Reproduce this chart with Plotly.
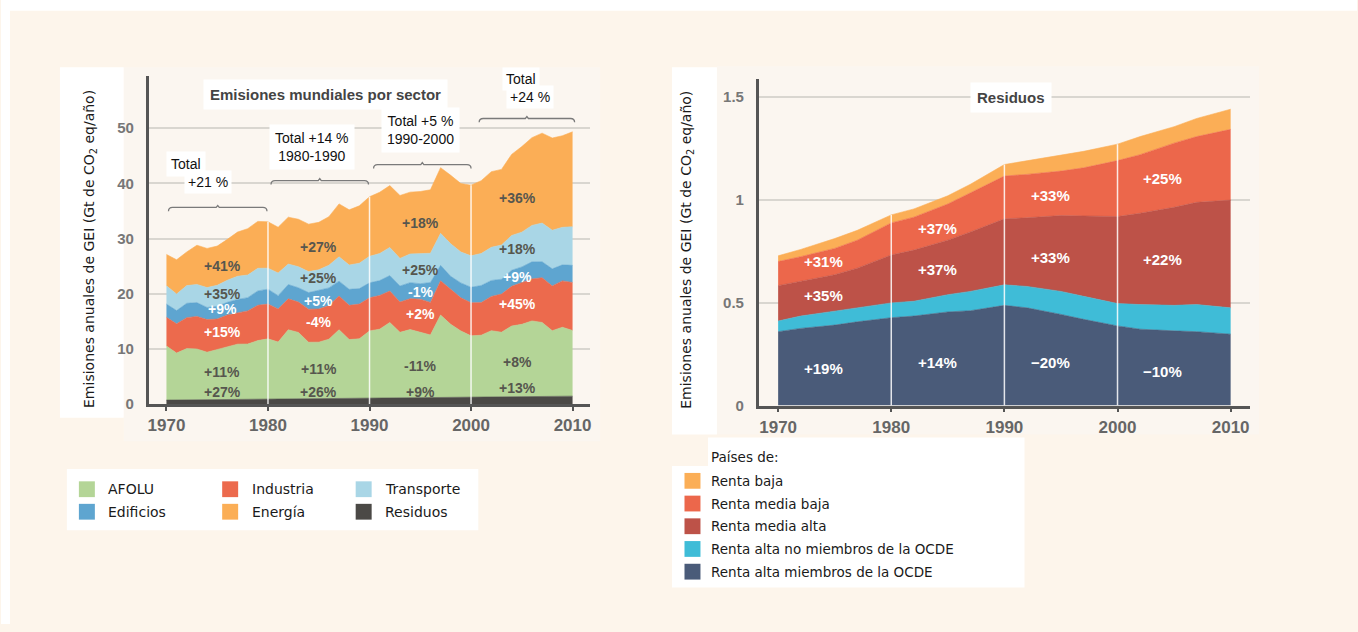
import plotly.graph_objects as go

W, H = 1358, 632


def X(px):
    return px / W


def Y(py):
    return 1 - py / H


# ---------------- Left chart data (Gt CO2eq/yr) ----------------
years = list(range(1970, 2011))
residuos = [0.73, 0.75, 0.77, 0.79, 0.81, 0.83, 0.85, 0.87, 0.89, 0.91,
            0.93, 0.95, 0.97, 0.99, 1.01, 1.03, 1.06, 1.08, 1.10, 1.13,
            1.17, 1.18, 1.19, 1.20, 1.21, 1.22, 1.23, 1.24, 1.25, 1.26,
            1.27, 1.29, 1.31, 1.33, 1.35, 1.36, 1.38, 1.40, 1.41, 1.43, 1.44]
afolu = [9.8, 8.5, 9.3, 9.2, 8.6, 9.1, 9.5, 10.0, 10.0, 10.6,
         10.9, 10.3, 12.5, 12.0, 10.2, 10.2, 10.7, 12.4, 10.6, 10.7,
         12.1, 12.4, 13.6, 11.8, 12.3, 11.8, 11.3, 14.9, 13.2, 12.0,
         11.1, 11.2, 12.0, 11.7, 12.8, 13.1, 13.7, 13.4, 11.9, 12.5, 11.9]
industria = [5.2, 5.3, 5.6, 5.9, 5.9, 5.5, 5.8, 5.6, 6.0, 6.4,
             6.3, 6.0, 5.6, 5.5, 6.0, 6.0, 6.1, 6.1, 6.2, 6.3,
             6.0, 6.1, 5.7, 5.5, 5.6, 6.0, 5.9, 6.2, 6.3, 6.0,
             6.0, 5.9, 6.2, 6.9, 7.2, 7.6, 7.6, 8.1, 8.1, 8.4, 8.7]
edificios = [2.4, 2.4, 2.6, 2.5, 2.2, 2.3, 2.3, 2.5, 2.4, 2.6,
             2.7, 2.4, 2.6, 2.6, 3.0, 3.4, 3.2, 2.7, 2.9, 2.8,
             2.7, 2.7, 2.8, 2.9, 2.9, 2.8, 3.6, 2.8, 2.4, 2.7,
             2.8, 3.1, 2.9, 2.7, 2.9, 2.8, 3.1, 2.9, 3.1, 2.9, 3.1]
transporte = [3.3, 3.0, 3.2, 3.3, 3.6, 3.8, 4.0, 4.2, 4.1, 4.1,
              3.8, 4.1, 3.7, 3.8, 3.8, 3.7, 4.1, 4.4, 4.4, 4.6,
              4.8, 4.9, 5.1, 5.0, 5.2, 5.4, 5.3, 5.8, 5.9, 5.6,
              5.7, 5.8, 6.0, 6.2, 6.3, 6.3, 6.6, 7.0, 7.0, 6.8, 7.0]
energia = [5.7, 6.2, 6.1, 7.1, 7.1, 7.1, 7.4, 8.0, 8.4, 8.5,
           8.4, 8.3, 8.5, 8.6, 8.6, 8.6, 8.8, 9.6, 10.0, 10.4,
           10.8, 11.1, 11.2, 11.4, 11.2, 11.3, 11.5, 11.9, 12.4, 12.4,
           12.8, 13.2, 13.7, 13.7, 14.7, 15.5, 15.9, 16.3, 16.7, 16.6, 17.2]

sector_names = ["Residuos", "AFOLU", "Industria", "Edificios", "Transporte", "Energía"]
sector_values = [residuos, afolu, industria, edificios, transporte, energia]
sector_colors = ["#4b4946", "#b4d597", "#ec6a4d", "#5ea5d0", "#a9d6e6", "#fbae56"]
left_legend_order = ["AFOLU", "Industria", "Transporte", "Edificios", "Energía", "Residuos"]

# ---------------- Right chart data (Residuos by income group) ----------------
r_years = [1970, 1972, 1975, 1977, 1980, 1982, 1985, 1987, 1990, 1992,
           1995, 1997, 2000, 2002, 2005, 2007, 2010]
ocde = [0.359, 0.375, 0.391, 0.407, 0.427, 0.435, 0.455, 0.461, 0.487, 0.475,
        0.443, 0.419, 0.387, 0.371, 0.363, 0.359, 0.347]
no_ocde = [0.052, 0.060, 0.068, 0.068, 0.072, 0.072, 0.084, 0.094, 0.100, 0.104,
           0.112, 0.112, 0.109, 0.120, 0.124, 0.132, 0.128]
media_alta = [0.172, 0.169, 0.177, 0.193, 0.233, 0.249, 0.265, 0.289, 0.321, 0.334,
              0.369, 0.391, 0.423, 0.444, 0.477, 0.497, 0.524]
media_baja = [0.117, 0.120, 0.128, 0.136, 0.156, 0.160, 0.176, 0.192, 0.208, 0.211,
              0.216, 0.234, 0.272, 0.285, 0.312, 0.320, 0.344]
baja = [0.028, 0.035, 0.048, 0.048, 0.039, 0.040, 0.040, 0.040, 0.056, 0.067,
        0.080, 0.080, 0.080, 0.088, 0.080, 0.088, 0.098]

income_names = ["Renta alta miembros de la OCDE", "Renta alta no miembros de la OCDE",
                "Renta media alta", "Renta media baja", "Renta baja"]
income_values = [ocde, no_ocde, media_alta, media_baja, baja]
income_colors = ["#4a5b79", "#3fbcd7", "#bd5248", "#ec674b", "#fbae56"]

x_ticks = [1970, 1980, 1990, 2000, 2010]
left_yticks = [0, 10, 20, 30, 40, 50]
right_yticks = [0, 0.5, 1, 1.5]
right_yticktext = ["0", "0.5", "1", "1.5"]
divider_years = [1980, 1990, 2000]

# percentage labels (column year, list of (value, text, white?))
left_label_cols = [
    (1975.5, [(25.0, "+41%", False), (20.0, "+35%", False), (17.2, "+9%", True),
              (13.0, "+15%", True), (5.8, "+11%", False), (2.25, "+27%", False)]),
    (1985.0, [(28.5, "+27%", False), (22.8, "+25%", False), (18.7, "+5%", True),
              (14.8, "-4%", True), (6.4, "+11%", False), (2.25, "+26%", False)]),
    (1995.0, [(32.8, "+18%", False), (24.3, "+25%", False), (20.3, "-1%", True),
              (16.4, "+2%", True), (6.9, "-11%", False), (2.25, "+9%", False)]),
    (2004.6, [(37.3, "+36%", False), (28.1, "+18%", False), (23.1, "+9%", True),
              (18.1, "+45%", True), (7.7, "+8%", False), (2.9, "+13%", False)]),
]
right_label_cols = [
    (1974.0, [(0.70, "+31%"), (0.535, "+35%"), (0.18, "+19%")]),
    (1984.1, [(0.859, "+37%"), (0.66, "+37%"), (0.211, "+14%")]),
    (1994.05, [(1.023, "+33%"), (0.719, "+33%"), (0.211, "\u221220%")]),
    (2004.0, [(1.103, "+25%"), (0.708, "+22%"), (0.163, "\u221210%")]),
]
# decade brackets: (start, end, height)
brackets = [(1970.2, 1979.9, 35.65), (1980.3, 1989.9, 40.5),
            (1990.4, 2000.0, 43.4), (2000.8, 2010.2, 51.75)]

NARROW = "Liberation Sans Narrow, Arial Narrow, Liberation Sans, Arial"
SANS = "Liberation Sans, Arial, sans-serif"
VERD = "DejaVu Sans, Verdana, sans-serif"
CREAM = "#fdf5eb"
PANEL = "#fbf6f0"
GRID = "#d9d6d0"
AXIS = "#555555"

fig = go.Figure()

for name, vals, col in zip(sector_names, sector_values, sector_colors):
    fig.add_trace(go.Scatter(x=years, y=vals, name=name, stackgroup="left",
                             mode="lines", line=dict(width=0.6, color=col),
                             fillcolor=col, xaxis="x", yaxis="y",
                             showlegend=False, hoverinfo="skip"))

for name, vals, col in zip(income_names, income_values, income_colors):
    fig.add_trace(go.Scatter(x=r_years, y=vals, name=name, stackgroup="right",
                             mode="lines", line=dict(width=0.6, color=col),
                             fillcolor=col, xaxis="x2", yaxis="y2",
                             showlegend=False, hoverinfo="skip"))

shapes = []


def rect(x0, y0, x1, y1, color):
    shapes.append(dict(type="rect", xref="paper", yref="paper", x0=X(x0), x1=X(x1),
                       y0=Y(y1), y1=Y(y0), fillcolor=color, line=dict(width=0),
                       layer="below"))


# page frame
rect(0, 0, W, 11, "white")
rect(0, 0, 9, H, "white")
# left chart panels
rect(59, 68, 123, 423, "white")
rect(123, 68, 600, 447, PANEL)
rect(66, 475, 478, 537, "white")
# right chart panels
rect(672, 68, 717, 440, "white")
rect(717, 67, 1260, 440, PANEL)
rect(708, 443, 1025, 472, "white")
rect(672, 472, 1025, 595, "white")

# white dividers at decades
left_totals = [sum(v[i] for v in sector_values) for i in range(len(years))]
right_totals = [sum(v[i] for v in income_values) for i in range(len(r_years))]
for yr in divider_years:
    shapes.append(dict(type="line", xref="x", yref="y", x0=yr, x1=yr, y0=0,
                       y1=left_totals[years.index(yr)],
                       line=dict(color="rgba(255,255,255,0.85)", width=1.5)))
    shapes.append(dict(type="line", xref="x2", yref="y2", x0=yr, x1=yr, y0=0,
                       y1=right_totals[r_years.index(yr)],
                       line=dict(color="rgba(255,255,255,0.85)", width=1.5)))

# brackets
for x0, x1, yb in brackets:
    xm = (x0 + x1) / 2
    path = (f"M {x0},{yb - 0.7} Q {x0},{yb} {x0 + 0.4},{yb} L {xm - 0.15},{yb} "
            f"L {xm},{yb + 0.35} L {xm + 0.15},{yb} L {x1 - 0.4},{yb} "
            f"Q {x1},{yb} {x1},{yb - 0.7}")
    shapes.append(dict(type="path", xref="x", yref="y", path=path,
                       line=dict(color="#7a7a7a", width=1.3)))

annotations = []


def note(px, py, text, size=14, color="#111", family=SANS, bg=None, **kw):
    d = dict(xref="paper", yref="paper", x=X(px), y=Y(py), text=text,
             showarrow=False, xanchor="center", yanchor="middle",
             font=dict(size=size, color=color, family=family))
    if bg:
        d.update(bgcolor=bg, borderpad=kw.pop("borderpad", 3))
    d.update(kw)
    annotations.append(d)


# left chart titles
note(325, 96, "<b>Emisiones mundiales por sector</b>", size=15, color="#444",
     bg="white", borderpad=6)
note(185.2, 166, "Total", bg="white", borderpad=4)
note(207.7, 184, "+21 %", bg="white", borderpad=3)
note(311, 149, "Total +14 %<br>1980-1990", bg="white", borderpad=5)
note(419.9, 132, "Total +5 %<br>1990-2000", bg="white", borderpad=5)
note(520.4, 80, "Total", bg="white", borderpad=3)
note(529.7, 98, "+24 %", bg="white", borderpad=3)
# right chart title
note(1011.8, 98.3, "<b>Residuos</b>", size=15, color="#444", bg="white",
     borderpad=6)

ytitle = "Emisiones anuales de GEI (Gt de CO<sub>2</sub> eq/año)"
note(89.3, 252, ytitle, size=14, color="#1a1a1a", family=VERD, textangle=-90)
note(687.5, 252.5, ytitle, size=14, color="#1a1a1a", family=VERD, textangle=-90)

# percentage labels
for yr, items in left_label_cols:
    for val, txt, white in items:
        annotations.append(dict(xref="x", yref="y", x=yr, y=val, text=f"<b>{txt}</b>",
                                showarrow=False, xanchor="center", yanchor="middle",
                                font=dict(size=14, family=NARROW,
                                          color="white" if white else "#56564e")))
for yr, items in right_label_cols:
    for val, txt in items:
        annotations.append(dict(xref="x2", yref="y2", x=yr, y=val, text=f"<b>{txt}</b>",
                                showarrow=False, xanchor="center", yanchor="middle",
                                font=dict(size=15, family=NARROW, color="white")))

# left legend (manual grid)
col_sq = [86, 229.5, 363.2]
row_y = [495.5, 518.3]
color_of = dict(zip(sector_names, sector_colors))
for i, name in enumerate(left_legend_order):
    cx = col_sq[i % 3]
    cy = row_y[i // 3]
    shapes.append(dict(type="rect", xref="paper", yref="paper",
                       x0=X(cx - 8), x1=X(cx + 8), y0=Y(cy + 8), y1=Y(cy - 8),
                       fillcolor=color_of[name], line=dict(width=0)))
    note(cx + 19.5, cy, name, size=14, color="#1a1a1a", family=VERD, xanchor="left")

# right legend
note(709, 462.7, "Países de:", size=13.5, color="#1a1a1a", family=VERD, xanchor="left")
for k, idx in enumerate([4, 3, 2, 1, 0]):
    cy = 487 + 23 * k
    shapes.append(dict(type="rect", xref="paper", yref="paper",
                       x0=X(684.5), x1=X(700.5), y0=Y(cy + 8), y1=Y(cy - 8),
                       fillcolor=income_colors[idx], line=dict(width=0)))
    note(709, cy, income_names[idx], size=13.5, color="#1a1a1a", family=VERD,
         xanchor="left")

tickfont_x = dict(family=NARROW, size=17, color="#666", weight="bold")
tickfont_y = dict(family=NARROW, size=15, color="#777", weight="bold")

common_x = dict(tickmode="array", tickvals=x_ticks, showline=True, linecolor=AXIS,
                linewidth=2.5, ticks="outside", ticklen=4, tickwidth=1.5,
                tickcolor=AXIS, showgrid=False, zeroline=False, tickfont=tickfont_x,
                fixedrange=True)
common_y = dict(tickmode="array", showline=True, linecolor=AXIS, linewidth=2.5,
                ticks="", showgrid=True, gridcolor=GRID, gridwidth=1.5,
                zeroline=False, tickfont=tickfont_y, ticklabelstandoff=9,
                fixedrange=True)

fig.update_layout(
    width=W, height=H, margin=dict(l=0, r=0, t=0, b=0),
    paper_bgcolor=CREAM, plot_bgcolor="rgba(0,0,0,0)",
    showlegend=False,
    xaxis=dict(domain=[X(147.8), X(590)], range=[1968.24, 2011.73], anchor="y",
               **common_x),
    yaxis=dict(domain=[Y(409.3), Y(76.7)], range=[0, 59.5], anchor="x",
               tickvals=left_yticks, **common_y),
    xaxis2=dict(domain=[X(758.8), X(1250.6)], range=[1968.28, 2011.69], anchor="y2",
                **common_x),
    yaxis2=dict(domain=[Y(410.7), Y(80)], range=[0, 1.588], anchor="x2",
                tickvals=right_yticks, ticktext=right_yticktext, **common_y),
    shapes=shapes,
    annotations=annotations,
)

fig.write_html("out.html", config={"displayModeBar": False},
               post_script="document.body.style.margin='0px';")
